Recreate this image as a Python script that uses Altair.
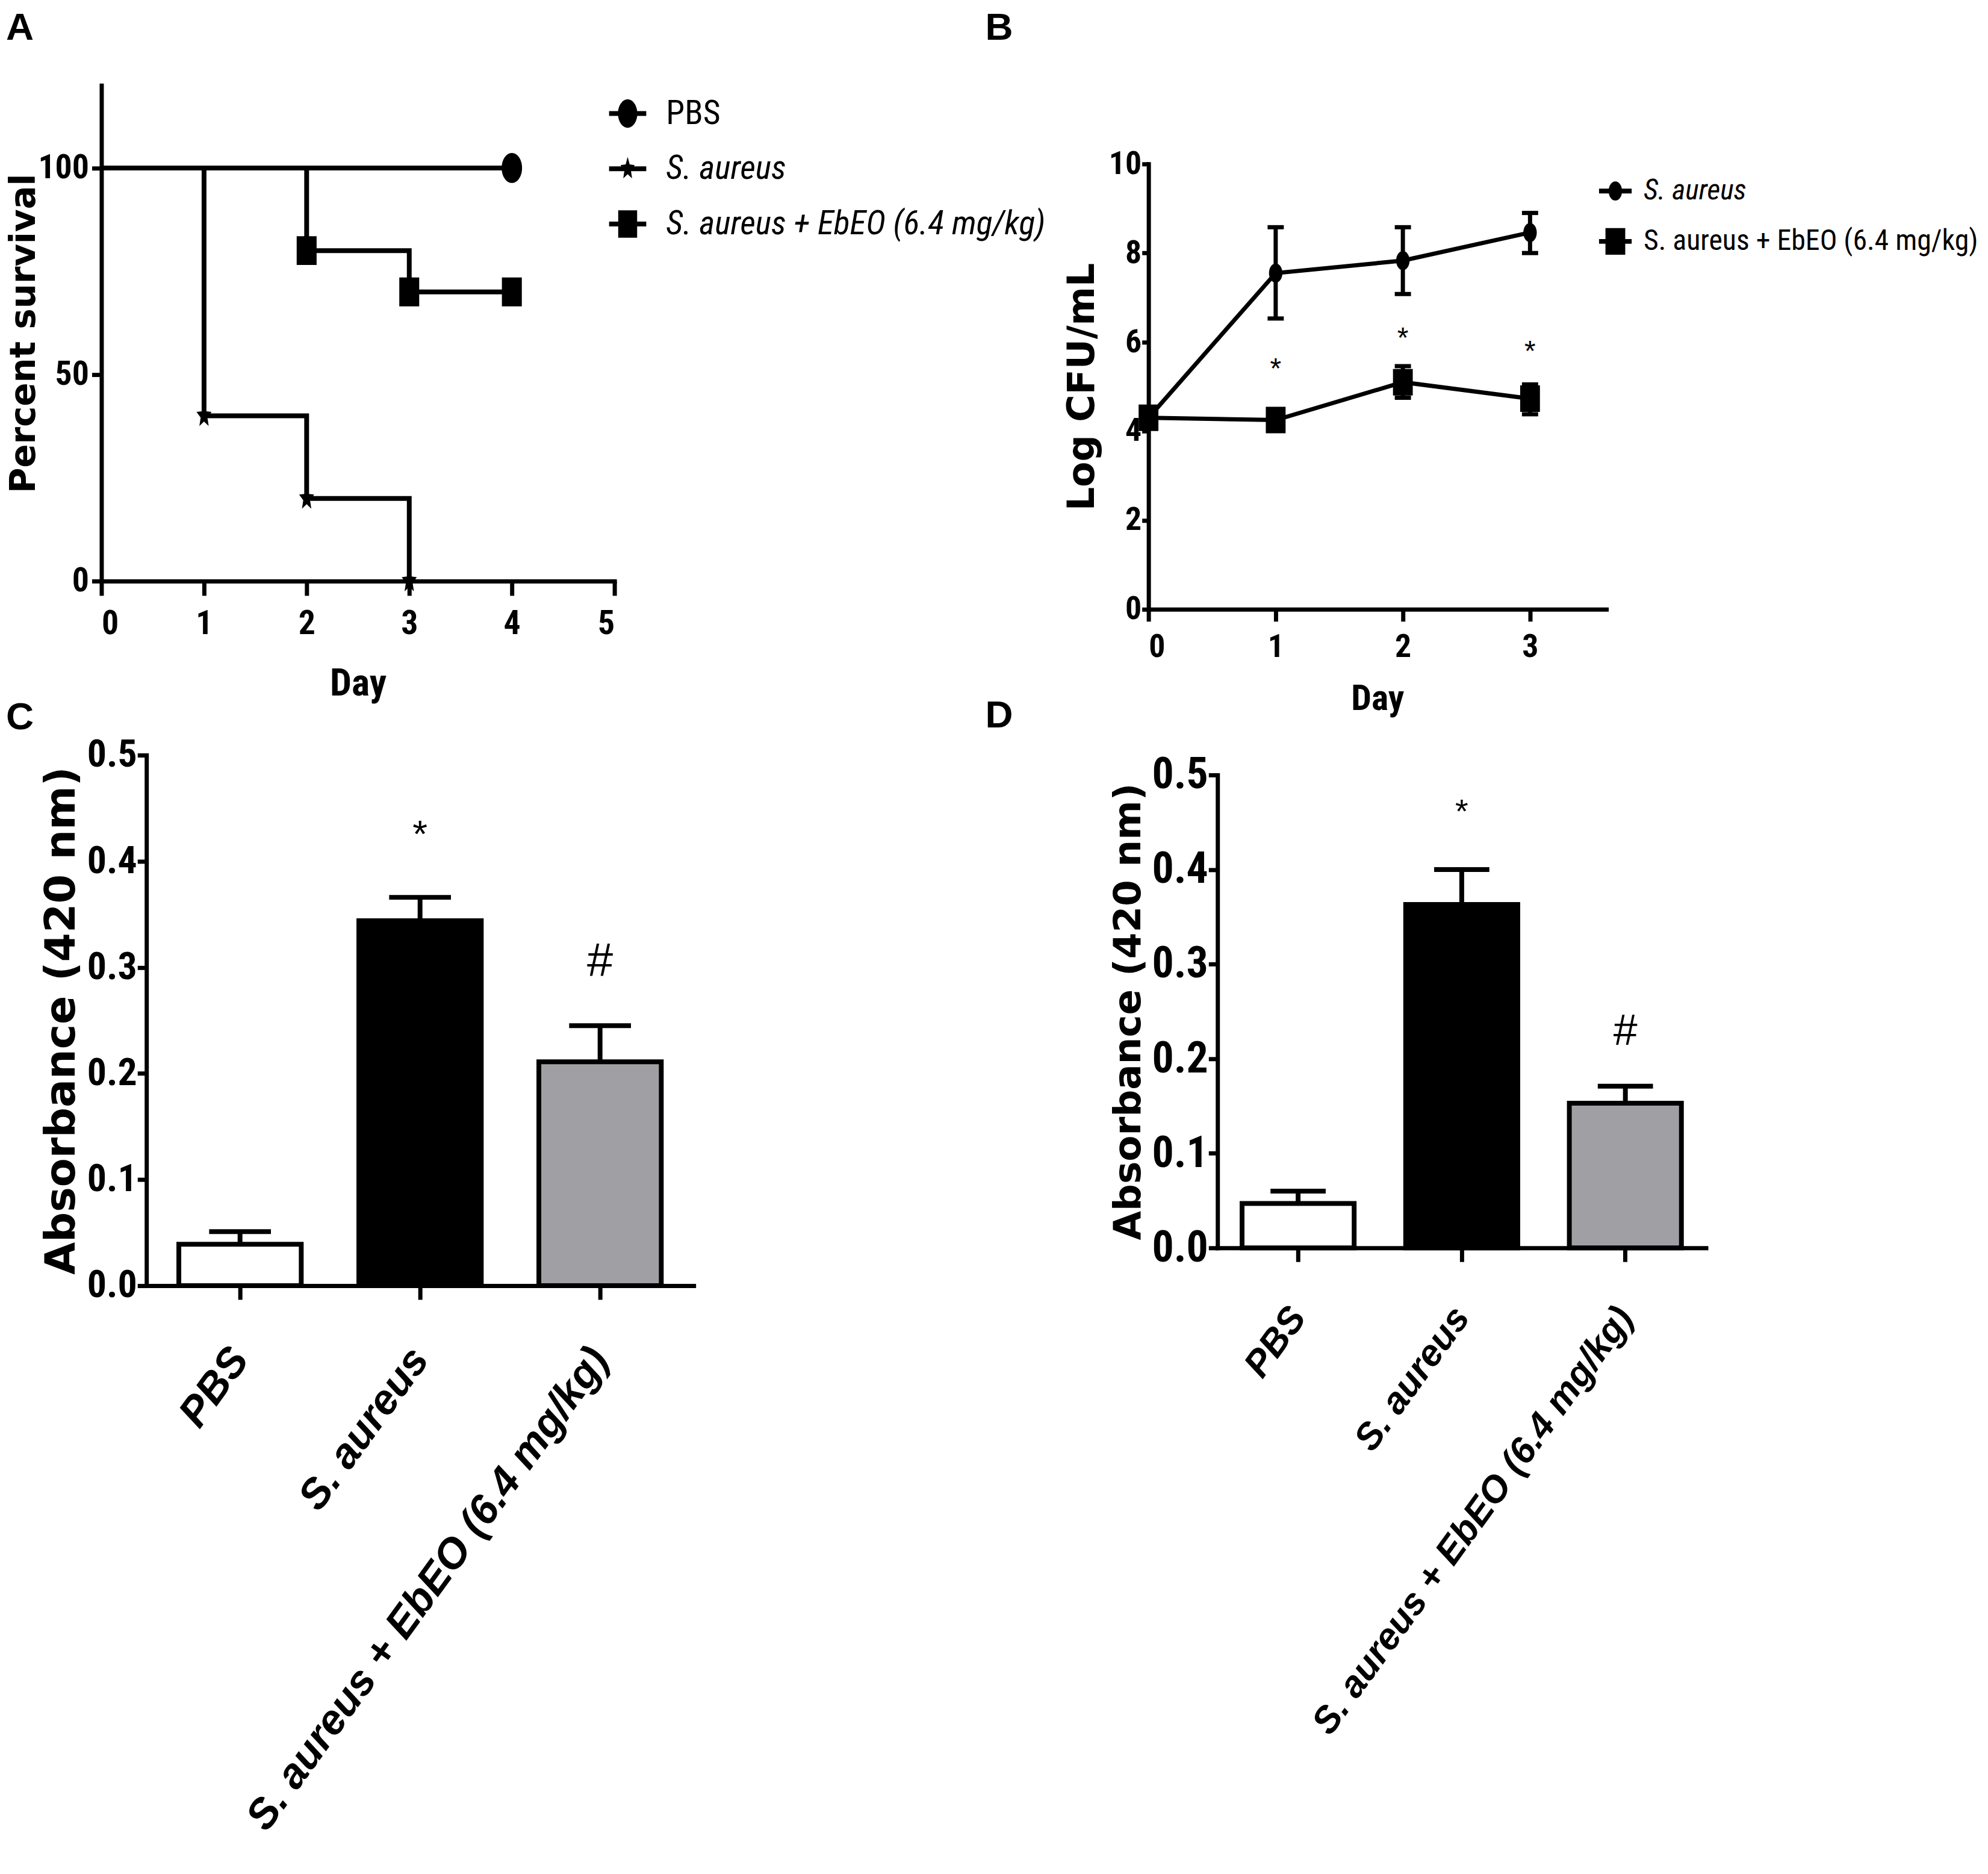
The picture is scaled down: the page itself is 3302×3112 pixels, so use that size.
import math
import altair as alt
import pandas as pd

NARROW = "'Roboto Condensed', 'Liberation Sans', Arial, sans-serif"
SANS = "'Liberation Sans', Arial, sans-serif"
WIDE = "'DejaVu Sans', sans-serif"

# ---------------- data ----------------
# Panel A : survival (step curves)
a_series = ["PBS", "S. aureus", "S. aureus + EbEO (6.4 mg/kg)"]
a_pbs_days = [0, 4]
a_pbs_surv = [100, 100]
a_sa_days = [0, 1, 2, 3]
a_sa_surv = [100, 40, 20, 0]
a_eb_days = [0, 2, 3, 4]
a_eb_surv = [100, 80, 70, 70]
a_pbs_mk_days = [4]
a_pbs_mk = [100]
a_sa_mk_days = [1, 2, 3]
a_sa_mk = [40, 20, 0]
a_eb_mk_days = [2, 3, 4]
a_eb_mk = [80, 70, 70]
a_x_ticks = [0, 1, 2, 3, 4, 5]
a_y_ticks = [0, 50, 100]

# Panel B : bacterial load
b_series = ["S. aureus", "S. aureus + EbEO (6.4 mg/kg)"]
b_days = [0, 1, 2, 3]
b_sa_mean = [4.3, 7.55, 7.83, 8.46]
b_sa_lo = [4.3, 6.53, 7.08, 8.0]
b_sa_hi = [4.3, 8.58, 8.58, 8.9]
b_eb_mean = [4.3, 4.25, 5.1, 4.73]
b_eb_lo = [4.3, 4.12, 4.75, 4.38]
b_eb_hi = [4.3, 4.38, 5.46, 5.05]
b_sig_days = [1, 2, 3]
b_sig_y = [5.55, 6.25, 5.95]
b_x_ticks = [0, 1, 2, 3]
b_y_ticks = [0, 2, 4, 6, 8, 10]

# Panels C and D : absorbance bars
groups = ["PBS", "S. aureus", "S. aureus + EbEO (6.4 mg/kg)"]
bar_colors = ["#ffffff", "#000000", "#a0a0a4"]
c_mean = [0.039, 0.344, 0.211]
c_err = [0.012, 0.022, 0.034]
c_sig = ["", "*", "#"]
c_sig_y = [0.0, 0.434, 0.305]
d_mean = [0.047, 0.363, 0.153]
d_err = [0.013, 0.037, 0.018]
d_sig = ["", "*", "#"]
d_sig_y = [0.0, 0.47, 0.229]
abs_ticks = [0.0, 0.1, 0.2, 0.3, 0.4, 0.5]

panel_letters = ["A", "B", "C", "D"]

# page geometry (pixels): plot origins and tile boxes of the four panels
PLOT = {"A": (168, 136), "B": (1909, 267), "C": (243, 1251), "D": (2027, 1284)}
TILE = {"A": (8, 8, 1770, 1200), "B": (1770, 8, 3300, 1200),
        "C": (8, 1150, 1770, 3104), "D": (1770, 1150, 3300, 3104)}
LETTER_POS = {"A": (32, 41), "B": (1664, 41), "C": (32, 1189), "D": (1664, 1186)}
# the panel that hosts each letter
LETTER_HOST = {"A": "A", "B": "A", "C": "C", "D": "C"}


# ---------------- marker shapes ----------------
def ellipse(rx, ry):
    return f"M{rx},0A{rx},{ry},0,1,1,{-rx},0A{rx},{ry},0,1,1,{rx},0Z"


def rect(hw, hh):
    return f"M{-hw},{-hh}H{hw}V{hh}H{-hw}Z"


def star(rx, ry, inner=0.45):
    pts = []
    for k in range(10):
        ang = math.radians(-90 + 36 * k)
        r = 1.0 if k % 2 == 0 else inner
        pts.append((r * rx * math.cos(ang), r * ry * math.sin(ang)))
    return "M" + "L".join(f"{x:.3f},{y:.3f}" for x, y in pts) + "Z"


a_plain = [ellipse(0.85, 1.25), star(0.66, 1.05), rect(0.83, 1.2)]
a_keys = [rect(1.63, 0.21) + p for p in a_plain]     # marker with line through it
b_plain = [ellipse(0.7, 1.0), rect(1.03, 1.38)]
b_keys = [rect(1.7, 0.25) + p for p in b_plain]


def letter_layers(host):
    px, py = PLOT[host]
    out = []
    for letter in panel_letters:
        if LETTER_HOST[letter] != host:
            continue
        lx, ly = LETTER_POS[letter]
        out.append(alt.Chart(pd.DataFrame({"t": [letter]})).mark_text(
            font=SANS, fontSize=64, fontWeight="bold", align="center",
            baseline="middle", color="black"
        ).encode(text="t:N", x=alt.value(lx - px), y=alt.value(ly - py)))
    return out


def frame_layer(name):
    # invisible diagonal rule that fixes the panel's layout box
    px, py = PLOT[name]
    x0, y0, x1, y1 = TILE[name]
    return alt.Chart(pd.DataFrame({"f": [0]})).mark_rule(opacity=0).encode(
        x=alt.value(x0 - px), x2=alt.value(x1 - px),
        y=alt.value(y0 - py), y2=alt.value(y1 - py))


def key_legend(lx, ly, size, fs, offset, rowpad, italic_expr):
    return alt.Legend(
        title=None, orient="none", legendX=lx, legendY=ly,
        symbolSize=size, symbolStrokeWidth=0, symbolFillColor="black",
        symbolOpacity=1, labelFont=NARROW, labelFontSize=fs,
        labelOffset=offset, rowPadding=rowpad, labelLimit=0,
        labelColor="black", padding=0, labelFontStyle=alt.ExprRef(italic_expr))


# ---------------- Panel A ----------------
a_line_rows = []
for s, ds, vs in [(a_series[0], a_pbs_days, a_pbs_surv),
                  (a_series[1], a_sa_days, a_sa_surv),
                  (a_series[2], a_eb_days, a_eb_surv)]:
    for d, v in zip(ds, vs):
        a_line_rows.append({"series": s, "day": d, "surv": v})
a_lines_df = pd.DataFrame(a_line_rows)

a_mk_rows = []
for s, ds, vs in [(a_series[0], a_pbs_mk_days, a_pbs_mk),
                  (a_series[1], a_sa_mk_days, a_sa_mk),
                  (a_series[2], a_eb_mk_days, a_eb_mk)]:
    for d, v in zip(ds, vs):
        a_mk_rows.append({"series": s, "day": d, "surv": v})
a_mk_df = pd.DataFrame(a_mk_rows)

ax_a_x = alt.Axis(values=a_x_ticks, title="Day", format="d", tickSize=24,
                  labelPadding=20, labelFont=NARROW, labelFontSize=56,
                  labelFontWeight="bold", titleFont=NARROW, titleFontSize=64,
                  titleFontWeight="bold", titlePadding=40)
ax_a_y = alt.Axis(values=a_y_ticks, title="Percent survival", format="d",
                  tickSize=16, labelPadding=5, labelFont=NARROW,
                  labelFontSize=56, labelFontWeight="bold", titleFont=WIDE,
                  titleFontSize=58, titleFontWeight="bold", titlePadding=-7)

xa = alt.X("day:Q", scale=alt.Scale(domain=[0, 5], nice=False), axis=ax_a_x)
ya = alt.Y("surv:Q", scale=alt.Scale(domain=[0, 120], nice=False), axis=ax_a_y)

a_lines = alt.Chart(a_lines_df).mark_line(
    interpolate="step-after", color="black", strokeWidth=8
).encode(x=xa, y=ya, detail="series:N")

a_points = alt.Chart(a_mk_df).mark_point(
    filled=True, color="black", size=1600, opacity=1
).encode(
    x="day:Q", y="surv:Q",
    shape=alt.Shape("series:N", scale=alt.Scale(domain=a_series, range=a_plain),
                    legend=None))

# zero-size copy of the markers whose only job is to carry the legend keys
a_keys_layer = alt.Chart(a_mk_df).mark_point(
    filled=True, color="black", size=0, opacity=1
).encode(
    x="day:Q", y="surv:Q",
    shape=alt.Shape("series:N", scale=alt.Scale(domain=a_series, range=a_keys),
                    legend=key_legend(849, 19, 1444, 56, 36, 36,
                                      "datum.label == 'PBS' ? 'normal' : 'italic'")))

chart_a = alt.layer(a_lines, a_points, a_keys_layer, *letter_layers("A"),
                    frame_layer("A")).resolve_scale(shape="independent").properties(
    width=855, height=826)

# ---------------- Panel B ----------------
b_rows = []
for s, mean, lo, hi in [(b_series[0], b_sa_mean, b_sa_lo, b_sa_hi),
                        (b_series[1], b_eb_mean, b_eb_lo, b_eb_hi)]:
    for d, m, l, h in zip(b_days, mean, lo, hi):
        b_rows.append({"series": s, "day": d, "mean": m, "lo": l, "hi": h})
b_df = pd.DataFrame(b_rows)
b_cap_rows = []
for r in b_rows:
    if r["hi"] > r["lo"]:
        b_cap_rows.append({"series": r["series"], "day": r["day"], "cap": r["lo"]})
        b_cap_rows.append({"series": r["series"], "day": r["day"], "cap": r["hi"]})
b_caps = pd.DataFrame(b_cap_rows)
b_sig_df = pd.DataFrame({"day": b_sig_days, "y": b_sig_y, "t": ["*"] * len(b_sig_days)})

ax_b_x = alt.Axis(values=b_x_ticks, title="Day", format="d", tickSize=20,
                  labelPadding=16, labelFont=NARROW, labelFontSize=54,
                  labelFontWeight="bold", titleFont=NARROW, titleFontSize=60,
                  titleFontWeight="bold", titlePadding=30)
ax_b_y = alt.Axis(values=b_y_ticks, title="Log CFU/mL", format="d",
                  tickSize=11, labelPadding=1, labelFont=NARROW,
                  labelFontSize=54, labelFontWeight="bold", titleFont=WIDE,
                  titleFontSize=62, titleFontWeight="bold", titlePadding=12)
xb = alt.X("day:Q", scale=alt.Scale(domain=[0, 3.6], nice=False), axis=ax_b_x)
yb_scale = alt.Scale(domain=[0, 10], nice=False)

b_lines = alt.Chart(b_df).mark_line(color="black", strokeWidth=7).encode(
    x=xb, y=alt.Y("mean:Q", scale=yb_scale, axis=ax_b_y), detail="series:N")
b_err = alt.Chart(b_df).transform_filter("datum.hi > datum.lo").mark_rule(
    color="black", strokeWidth=7).encode(x="day:Q", y="lo:Q", y2="hi:Q")
b_cap = alt.Chart(b_caps).mark_tick(
    orient="horizontal", size=27, thickness=7, color="black", opacity=1
).encode(x="day:Q", y="cap:Q")
b_points = alt.Chart(b_df).mark_point(
    filled=True, color="black", size=1024, opacity=1
).encode(
    x="day:Q", y="mean:Q",
    shape=alt.Shape("series:N", scale=alt.Scale(domain=b_series, range=b_plain),
                    legend=None))
b_keys_layer = alt.Chart(b_df).mark_point(
    filled=True, color="black", size=0, opacity=1
).encode(
    x="day:Q", y="mean:Q",
    shape=alt.Shape("series:N", scale=alt.Scale(domain=b_series, range=b_keys),
                    legend=key_legend(754, 21, 1024, 48, 23, 36,
                                      "datum.label == 'S. aureus' ? 'italic' : 'normal'")))
b_sig = alt.Chart(b_sig_df).mark_text(
    font=SANS, fontSize=48, color="black", baseline="middle", dy=13
).encode(x="day:Q", y="y:Q", text="t:N")

chart_b = alt.layer(b_lines, b_err, b_cap, b_points, b_keys_layer, b_sig,
                    *letter_layers("B"), frame_layer("B")).resolve_scale(
    shape="independent").properties(width=763, height=742)


# ---------------- Panels C and D ----------------
def bar_panel(name, means, errs, sigs, sig_ys, width, height, p_in, p_out,
              lab_fs, lab_pad, tick_fs, title_fs, title_pad, cap_w, star_fs,
              hash_fs):
    df = pd.DataFrame({"group": groups, "mean": means,
                       "hi": [m + e for m, e in zip(means, errs)]})
    sig_df = pd.DataFrame({"group": groups, "y": sig_ys, "t": sigs})
    xs = alt.X("group:N", sort=groups,
               scale=alt.Scale(domain=groups, paddingInner=p_in, paddingOuter=p_out),
               axis=alt.Axis(title=None, labelAngle=306, labelAlign="right",
                             labelBaseline="middle", labelPadding=lab_pad,
                             tickSize=23, labelFont=SANS, labelFontSize=lab_fs,
                             labelFontWeight="bold", labelFontStyle="italic",
                             labelLimit=0, labelOverlap=False))
    ys = alt.Y("mean:Q", scale=alt.Scale(domain=[0, 0.5], nice=False),
               axis=alt.Axis(values=abs_ticks, format=".1f",
                             title="Absorbance (420 nm)", tickSize=15,
                             labelPadding=1, labelFont=NARROW,
                             labelFontSize=tick_fs, labelFontWeight="bold",
                             titleFont=WIDE, titleFontSize=title_fs,
                             titleFontWeight="bold", titlePadding=title_pad))
    err = alt.Chart(df).mark_rule(color="black", strokeWidth=8).encode(
        x=alt.X("group:N", sort=groups), y="mean:Q", y2="hi:Q")
    cap = alt.Chart(df).mark_tick(size=cap_w, thickness=8, color="black",
                                  opacity=1).encode(
        x=alt.X("group:N", sort=groups), y="hi:Q")
    bars = alt.Chart(df).mark_bar(stroke="black", strokeWidth=8).encode(
        x=xs, y=ys,
        fill=alt.Fill("group:N", scale=alt.Scale(domain=groups, range=bar_colors),
                      legend=None))
    star_t = alt.Chart(sig_df).transform_filter("datum.t == '*'").mark_text(
        font=SANS, fontSize=star_fs, color="black", baseline="middle",
        dy=round(star_fs * 0.27)).encode(
        x=alt.X("group:N", sort=groups), y="y:Q", text="t:N")
    hash_t = alt.Chart(sig_df).transform_filter("datum.t == '#'").mark_text(
        font=SANS, fontSize=hash_fs, color="black", baseline="middle").encode(
        x=alt.X("group:N", sort=groups), y="y:Q", text="t:N")
    return alt.layer(bars, err, cap, star_t, hash_t, *letter_layers(name),
                     frame_layer(name)).properties(width=width, height=height)


chart_c = bar_panel("C", c_mean, c_err, c_sig, c_sig_y, 912, 884, 0.32, 0.18,
                    70, 88, 64, 70, 6, 103, 64, 78)
chart_d = bar_panel("D", d_mean, d_err, d_sig, d_sig_y, 814, 788, 0.315, 0.15,
                    62, 82, 72, 63, 6, 92, 56, 72)


def spacer():
    return alt.Chart(pd.DataFrame({"s": [0]})).mark_rule(opacity=0).encode(
        x=alt.value(0), x2=alt.value(0), y=alt.value(0), y2=alt.value(0)
    ).properties(width=1, height=1)


def wrap(panel):
    # a spacer row and column make the cell's origin its layout box corner
    return alt.concat(
        spacer(), spacer(), spacer(), panel,
        columns=2, align="none", bounds="full", spacing=0,
    ).resolve_scale(shape="independent", fill="independent").resolve_legend(
        shape="independent", fill="independent")


chart = alt.concat(
    wrap(chart_a), wrap(chart_b), wrap(chart_c), wrap(chart_d),
    columns=2, align="none", bounds="full",
    spacing={"row": -50, "column": 0},
).resolve_scale(
    shape="independent", fill="independent"
).resolve_legend(
    shape="independent", fill="independent"
).properties(
    padding={"left": 0, "top": 0, "right": 0, "bottom": 0}
).configure_view(strokeWidth=0).configure_axis(
    grid=False, domainColor="black", domainWidth=7, domainCap="square",
    tickColor="black", tickWidth=7, labelColor="black", titleColor="black"
)

chart.save("out.html", embed_options={"renderer": "svg", "actions": False})
